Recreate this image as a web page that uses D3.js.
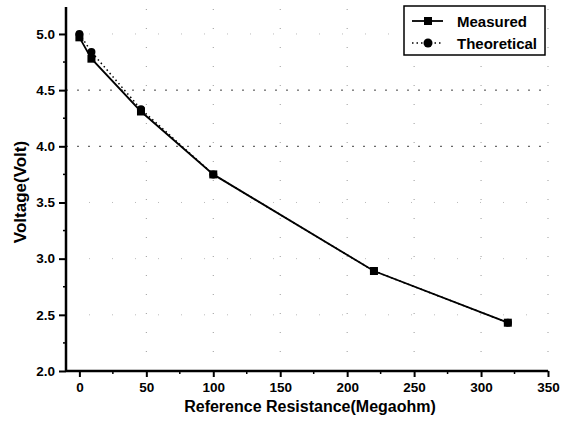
<!DOCTYPE html>
<html>
<head>
<meta charset="utf-8">
<script src="https://cdn.jsdelivr.net/npm/d3@7"></script>
<style>
    body { margin: 0; background: #fff; }
    svg text { font-family: "Liberation Sans", Arial, sans-serif; font-weight: bold; fill: #000; }
</style>
</head>
<body>
<div id="chart"></div>
<script>
// values
const resistance = [0, 9, 46, 100, 220, 320];
const measured = [4.97, 4.78, 4.31, 3.75, 2.89, 2.43];
const theoretical = [5.00, 4.84, 4.33, 3.75, 2.89, 2.43];
const xTicks = [0, 50, 100, 150, 200, 250, 300, 350];
const yTicks = [2.0, 2.5, 3.0, 3.5, 4.0, 4.5, 5.0];
const seriesNames = ['Measured', 'Theoretical'];

const w = 572, h = 428;
const margin = { left: 66, right: 24, top: 7, bottom: 57 };

const svg = d3.select('#chart')
    .append('svg')
    .attr('width', w)
    .attr('height', h);

const x = d3.scaleLinear()
    .domain([-10, 350])
    .range([margin.left, w - margin.right]);

const y = d3.scaleLinear()
    .domain([2.0, 5.24])
    .range([h - margin.bottom, margin.top]);

// dotted grid (scanned look)
svg.append('g')
    .selectAll('line')
    .data(xTicks.filter(d => d > 0))
    .join('line')
    .attr('x1', d => x(d)).attr('x2', d => x(d))
    .attr('y1', y(2.0)).attr('y2', y(5.24))
    .attr('stroke', '#999')
    .attr('stroke-width', 1)
    .attr('stroke-dasharray', '1 18');

svg.append('g')
    .selectAll('line')
    .data(yTicks.filter(d => d > 2.0))
    .join('line')
    .attr('x1', x(-10)).attr('x2', x(350))
    .attr('y1', d => y(d)).attr('y2', d => y(d))
    .attr('stroke', d => (d === 4.0 || d === 4.5) ? '#444' : '#bbb')
    .attr('stroke-width', 1)
    .attr('stroke-dasharray', d => (d === 4.0 || d === 4.5) ? '2 9' : '1 22');

// axes
const xAxis = d3.axisBottom(x).tickValues(xTicks).tickSize(6).tickPadding(5).tickFormat(d3.format('d'));
const yAxis = d3.axisLeft(y).tickValues(yTicks).tickSize(7).tickPadding(4).tickFormat(d3.format('.1f'));

const gx = svg.append('g')
    .attr('transform', 'translate(0,' + y(2.0) + ')')
    .call(xAxis);
const gy = svg.append('g')
    .attr('transform', 'translate(' + x(-10) + ',0)')
    .call(yAxis);

[gx, gy].forEach(g => {
    g.select('.domain').attr('stroke', '#000').attr('stroke-width', 2.5);
    g.selectAll('.tick line').attr('stroke', '#000').attr('stroke-width', 2);
    g.selectAll('.tick text').style('font-size', '13.5px').attr('fill', '#000');
});
gx.select('.domain').attr('d', 'M' + x(-10) + ',0H' + x(350));
gy.select('.domain').attr('d', 'M0,' + y(2.0) + 'V' + y(5.24));

// minor ticks
svg.append('g')
    .selectAll('line')
    .data(d3.range(25, 350, 50))
    .join('line')
    .attr('x1', d => x(d)).attr('x2', d => x(d))
    .attr('y1', y(2.0)).attr('y2', y(2.0) + 3)
    .attr('stroke', '#000').attr('stroke-width', 1.5);
svg.append('g')
    .selectAll('line')
    .data(d3.range(2.25, 5.2, 0.5))
    .join('line')
    .attr('x1', x(-10) - 3).attr('x2', x(-10))
    .attr('y1', d => y(d)).attr('y2', d => y(d))
    .attr('stroke', '#000').attr('stroke-width', 1.5);

// axis titles
svg.append('text')
    .attr('x', 310)
    .attr('y', 412)
    .attr('text-anchor', 'middle')
    .style('font-size', '16px')
    .text('Reference Resistance(Megaohm)');

svg.append('text')
    .attr('transform', 'translate(26,192) rotate(-90)')
    .attr('text-anchor', 'middle')
    .style('font-size', '17px')
    .text('Voltage(Volt)');

// series
const measuredData = resistance.map((r, i) => [r, measured[i]]);
const theoreticalData = resistance.map((r, i) => [r, theoretical[i]]);
const line = d3.line().x(d => x(d[0])).y(d => y(d[1]));

svg.append('path')
    .datum(theoreticalData)
    .attr('fill', 'none')
    .attr('stroke', '#000')
    .attr('stroke-width', 1.5)
    .attr('stroke-dasharray', '1.5 3')
    .attr('d', line);

svg.append('path')
    .datum(measuredData)
    .attr('fill', 'none')
    .attr('stroke', '#000')
    .attr('stroke-width', 1.8)
    .attr('d', line);

svg.append('g')
    .selectAll('circle')
    .data(theoreticalData)
    .join('circle')
    .attr('cx', d => x(d[0]))
    .attr('cy', d => y(d[1]))
    .attr('r', 4)
    .attr('fill', '#000');

svg.append('g')
    .selectAll('rect')
    .data(measuredData)
    .join('rect')
    .attr('x', d => x(d[0]) - 4)
    .attr('y', d => y(d[1]) - 4)
    .attr('width', 8)
    .attr('height', 8)
    .attr('fill', '#000');

// legend
const legend = svg.append('g');
legend.append('rect')
    .attr('x', 404).attr('y', 6)
    .attr('width', 141).attr('height', 49)
    .attr('fill', '#fff')
    .attr('stroke', '#000')
    .attr('stroke-width', 1.5);

seriesNames.forEach((name, i) => {
    const ly = 21 + i * 22;
    legend.append('line')
        .attr('x1', 412).attr('x2', 443)
        .attr('y1', ly).attr('y2', ly)
        .attr('stroke', '#000')
        .attr('stroke-width', i === 0 ? 1.8 : 1.5)
        .attr('stroke-dasharray', i === 0 ? null : '1.5 3');
    if (i === 0) {
        legend.append('rect')
            .attr('x', 424).attr('y', ly - 4)
            .attr('width', 8).attr('height', 8)
            .attr('fill', '#000');
    } else {
        legend.append('circle')
            .attr('cx', 428).attr('cy', ly)
            .attr('r', 4.5)
            .attr('fill', '#000');
    }
    legend.append('text')
        .attr('x', 457)
        .attr('y', ly + 5.5)
        .style('font-size', '15px')
        .text(name);
});
</script>
</body>
</html>
